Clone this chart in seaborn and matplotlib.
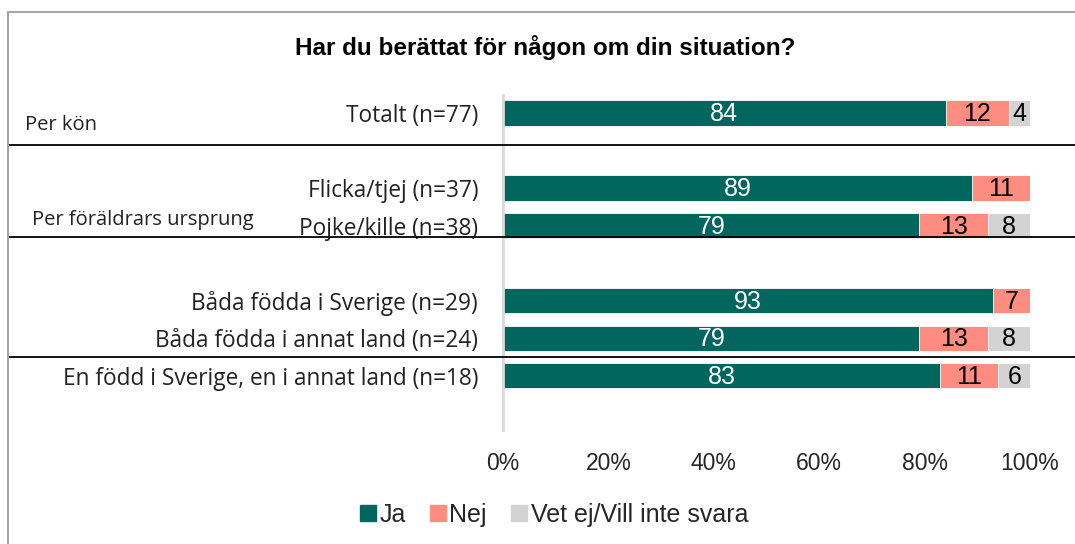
import matplotlib
matplotlib.use("Agg")
import matplotlib.pyplot as plt
from matplotlib.lines import Line2D
from matplotlib.patches import Rectangle
import seaborn as sns
import pandas as pd
import numpy as np

# ---- data ----
categories = ["Totalt (n=77)", "Flicka/tjej (n=37)", "Pojke/kille (n=38)",
              "Båda födda i Sverige (n=29)", "Båda födda i annat land (n=24)",
              "En född i Sverige, en i annat land (n=18)"]
positions = [0, 2, 3, 5, 6, 7]
ja = [84, 89, 79, 93, 79, 83]
nej = [12, 11, 13, 7, 13, 11]
vet = [4, 0, 8, 0, 8, 6]
series_names = ["Ja", "Nej", "Vet ej/Vill inte svara"]
colors = ["#00665E", "#FF8C80", "#D3D3D3"]
xticks = [0, 20, 40, 60, 80, 100]
title = "Har du berättat för någon om din situation?"
group_labels = ["Per kön", "Per föräldrars ursprung"]

sns.set_theme(style="white")
plt.rcParams['font.family'] = ['Liberation Sans', 'DejaVu Sans']

W, H = 1075, 544
fig = plt.figure(figsize=(W / 100, H / 100), dpi=100)
ax = fig.add_axes([503 / W, 1 - 430 / H, 527 / W, 335 / H])

df = pd.DataFrame({"pos": positions, "ja": ja, "nej": nej, "vet": vet})
df["c1"] = df["ja"]
df["c2"] = df["ja"] + df["nej"]
df["c3"] = df["ja"] + df["nej"] + df["vet"]

for col, c in zip(["c3", "c2", "c1"], colors[::-1]):
    sns.barplot(data=df, x=col, y="pos", orient="y", native_scale=True,
                width=0.67, color=c, saturation=1, errorbar=None,
                edgecolor="white", linewidth=0.6, ax=ax)

# value labels
for i, p in enumerate(positions):
    left = 0
    for vals, tc in zip([ja, nej, vet], ["white", "black", "black"]):
        v = vals[i]
        if v > 0:
            ax.text(left + v / 2, p + 0.03, f"{v}", ha="center", va="center",
                    color=tc, fontsize=18)
        left += v

ax.set_xlim(0, 100)
ax.set_ylim(8.45, -0.48)
ax.set_xticks(xticks)
ax.set_xticklabels([f"{t}%" for t in xticks], fontsize=16.5)
ax.set_yticks(positions)
ax.set_yticklabels(categories, fontsize=16.3, family=['Open Sans', 'DejaVu Sans'], color="#222222")
ax.tick_params(axis="x", length=0, pad=16)
ax.tick_params(axis="y", length=0, pad=18)
ax.set_xlabel("")
ax.set_ylabel("")
for s in ["top", "right", "bottom"]:
    ax.spines[s].set_visible(False)
ax.spines["left"].set_color("#D9D9D9")
ax.spines["left"].set_linewidth(2)

# separator lines
xmin = (8 - 503) / 527
xmax = (1075 - 503) / 527
for y in [0.85, 3.3, 6.5]:
    ax.axhline(y, xmin=xmin, xmax=xmax, color="black", lw=1.3, clip_on=False, zorder=5)

# group labels
fig.text(25 / W, 1 - 125 / H, group_labels[0], ha="left", va="center",
         fontsize=14.5, family=['Open Sans', 'DejaVu Sans'], color="#222222")
fig.text(32 / W, 1 - 220 / H, group_labels[1], ha="left", va="center",
         fontsize=14.5, family=['Open Sans', 'DejaVu Sans'], color="#222222")

# title
fig.text(545 / W, 1 - 47 / H, title, ha="center", va="center",
         fontsize=17.5, fontweight="bold", color="black")

# legend
handles = [Line2D([0], [0], marker="s", linestyle="none", markersize=11,
                  markerfacecolor=c, markeredgecolor=c) for c in colors]
fig.legend(handles, series_names, loc="center", bbox_to_anchor=(553 / W, 1 - 515 / H),
           ncol=3, frameon=False, fontsize=18, handletextpad=0.05,
           columnspacing=0.9, handlelength=0.8)

# border
fig.add_artist(Rectangle((8 / W, -0.1), 1.2, 1 - 12 / H + 0.1, transform=fig.transFigure,
                         fill=False, edgecolor="#A6A6A6", lw=1.5))

fig.savefig("out.png", dpi=100)
